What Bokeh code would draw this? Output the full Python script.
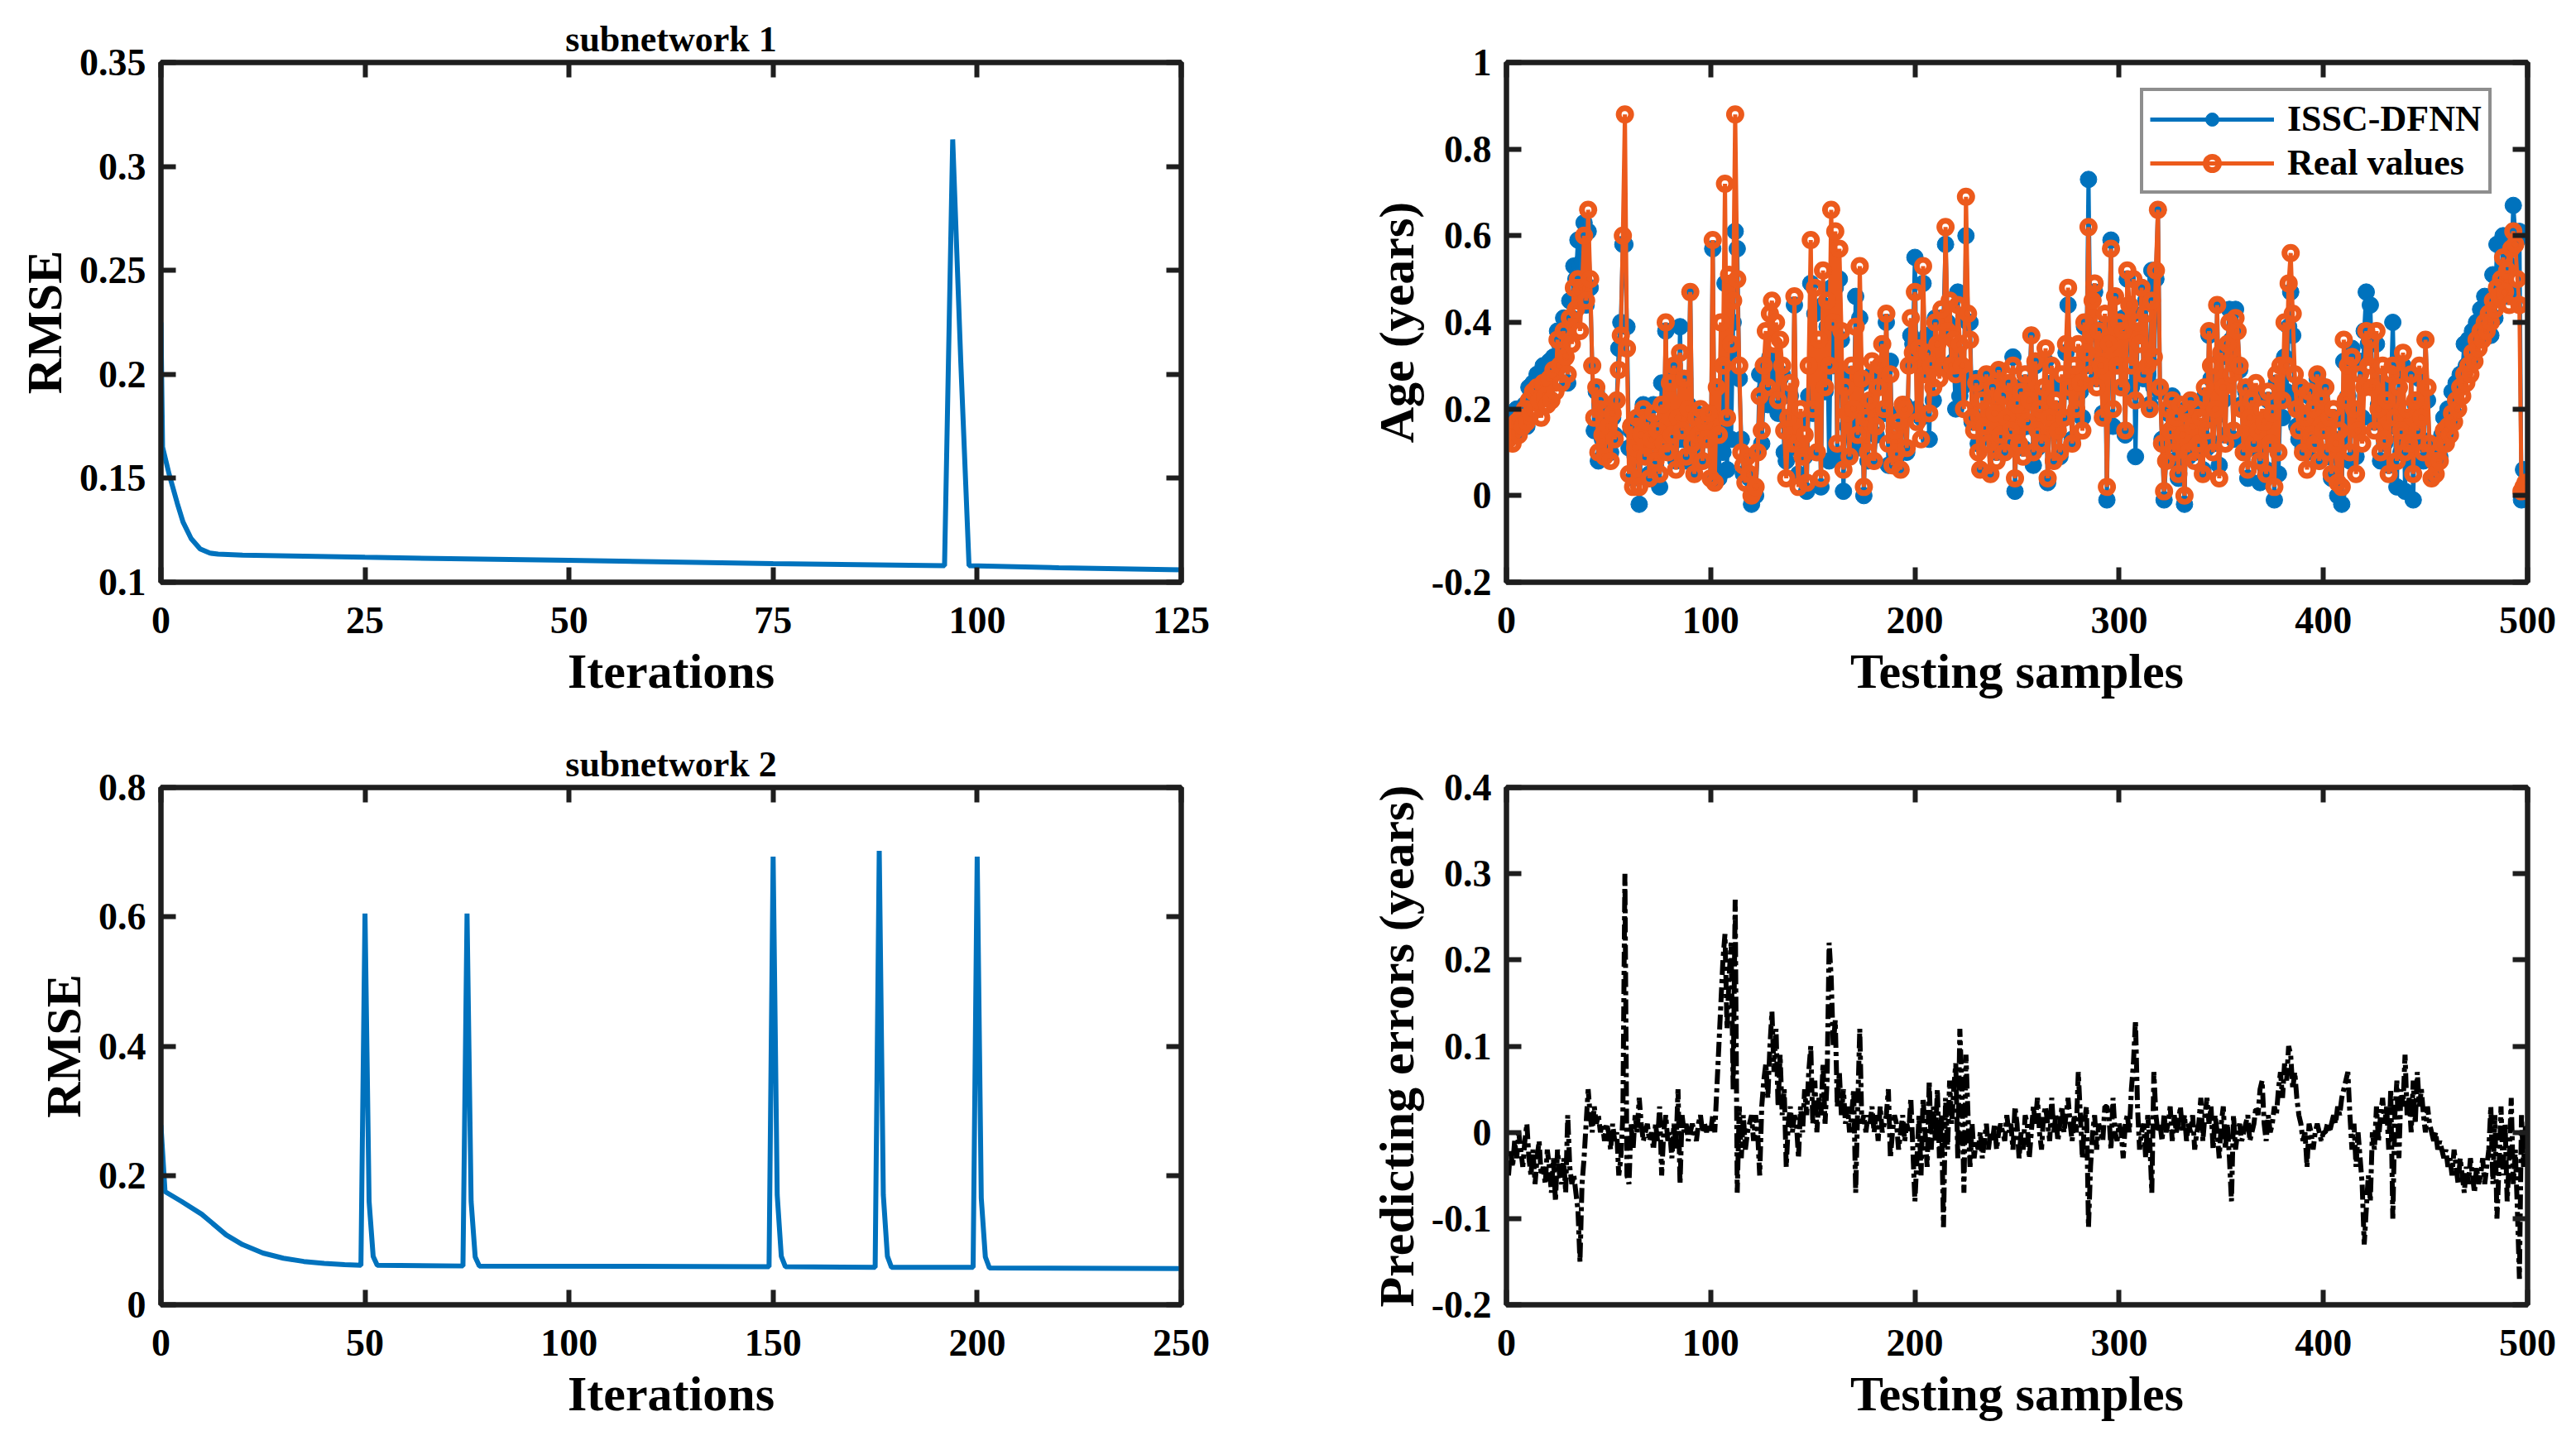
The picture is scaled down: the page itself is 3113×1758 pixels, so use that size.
from bokeh.plotting import figure
from bokeh.layouts import column, row
from bokeh.models import Range1d, FixedTicker, LinearAxis, Legend, LegendItem
from bokeh.embed import file_html
from bokeh.resources import INLINE

FONT = "Liberation Serif"
BLUE = "#0072BD"
ORANGE = "#EC5A1C"
AXC = "#1e1e1e"

# ---------------- data ----------------
iter1 = [0, 0.2, 1, 2, 2.7, 3.7, 4.8, 6, 7, 10, 25, 50, 75, 96, 97, 98, 99, 110, 125]
rmse1 = [0.225, 0.165, 0.152, 0.138, 0.129, 0.121, 0.116, 0.1140, 0.1135, 0.113, 0.112,
         0.1105, 0.109, 0.108, 0.313, 0.205, 0.108, 0.107, 0.106]

iter2 = [0, 1, 5, 10, 13, 16, 20, 25, 30, 35, 40, 45, 49, 50, 51, 52, 53,
         74, 75, 76, 77, 78, 149, 150, 151, 152, 153, 175, 176, 177, 178, 179,
         199, 200, 201, 202, 203, 250]
rmse2 = [0.278, 0.175, 0.160, 0.140, 0.124, 0.108, 0.093, 0.080, 0.072, 0.067, 0.064, 0.062, 0.061,
         0.605, 0.160, 0.075, 0.061,
         0.060, 0.605, 0.160, 0.074, 0.060, 0.059, 0.693, 0.170, 0.075, 0.059,
         0.058, 0.702, 0.170, 0.075, 0.058,
         0.058, 0.693, 0.165, 0.074, 0.057, 0.056]

real_values = [
    0.13, 0.14, 0.12, 0.15, 0.17, 0.14, 0.18, 0.16, 0.20, 0.17,
    0.22, 0.19, 0.24, 0.20, 0.25, 0.22, 0.18, 0.26, 0.23, 0.21,
    0.27, 0.22, 0.29, 0.24, 0.36, 0.30, 0.26, 0.38, 0.32, 0.28,
    0.41, 0.35, 0.48, 0.43, 0.50, 0.38, 0.48, 0.60, 0.45, 0.66,
    0.50, 0.30, 0.18, 0.25, 0.10, 0.22, 0.14, 0.09, 0.20, 0.16,
    0.08, 0.19, 0.13, 0.22, 0.29, 0.37, 0.60, 0.88, 0.34, 0.05,
    0.16, 0.02, 0.11, 0.18, 0.02, 0.14, 0.20, 0.09, 0.17, 0.04,
    0.13, 0.19, 0.08, 0.15, 0.05, 0.21, 0.12, 0.40, 0.10, 0.26,
    0.14, 0.30, 0.06, 0.18, 0.33, 0.15, 0.27, 0.09, 0.20, 0.47,
    0.12, 0.05, 0.18, 0.14, 0.20, 0.08, 0.17, 0.13, 0.19, 0.04,
    0.59, 0.03, 0.25, 0.14, 0.40, 0.30, 0.72, 0.18, 0.51, 0.35,
    0.45, 0.88, 0.50, 0.30, 0.10, 0.07, 0.03, 0.09, 0.05, 0.00,
    0.01, 0.02, 0.10, 0.23, 0.15, 0.30, 0.38, 0.25, 0.42, 0.45,
    0.35, 0.40, 0.22, 0.36, 0.30, 0.15, 0.04, 0.18, 0.26, 0.12,
    0.46, 0.12, 0.02, 0.20, 0.09, 0.14, 0.03, 0.30, 0.59, 0.20,
    0.48, 0.10, 0.36, 0.04, 0.52, 0.25, 0.45, 0.30, 0.66, 0.40,
    0.61, 0.12, 0.57, 0.38, 0.06, 0.25, 0.19, 0.09, 0.30, 0.20,
    0.39, 0.14, 0.53, 0.27, 0.02, 0.18, 0.10, 0.22, 0.31, 0.08,
    0.16, 0.25, 0.30, 0.35, 0.20, 0.42, 0.12, 0.28, 0.07, 0.15,
    0.10, 0.17, 0.06, 0.21, 0.20, 0.11, 0.30, 0.41, 0.33, 0.47,
    0.17, 0.34, 0.13, 0.53, 0.28, 0.33, 0.19, 0.30, 0.25, 0.40,
    0.35, 0.27, 0.43, 0.30, 0.62, 0.38, 0.45, 0.30, 0.36, 0.28,
    0.44, 0.35, 0.30, 0.20, 0.69, 0.42, 0.36, 0.18, 0.15, 0.26,
    0.10, 0.06, 0.22, 0.16, 0.28, 0.12, 0.05, 0.25, 0.19, 0.08,
    0.29, 0.14, 0.23, 0.10, 0.18, 0.26, 0.15, 0.30, 0.04, 0.21,
    0.12, 0.24, 0.09, 0.28, 0.17, 0.22, 0.37, 0.10, 0.31, 0.15,
    0.20, 0.12, 0.25, 0.34, 0.04, 0.18, 0.30, 0.08, 0.22, 0.15,
    0.10, 0.28, 0.18, 0.35, 0.48, 0.25, 0.12, 0.30, 0.20, 0.35,
    0.26, 0.15, 0.40, 0.33, 0.62, 0.28, 0.45, 0.49, 0.25, 0.38,
    0.30, 0.18, 0.42, 0.02, 0.35, 0.57, 0.20, 0.46, 0.30, 0.40,
    0.25, 0.38, 0.15, 0.52, 0.44, 0.30, 0.50, 0.22, 0.40, 0.35,
    0.48, 0.28, 0.42, 0.30, 0.20, 0.45, 0.32, 0.52, 0.66, 0.25,
    0.12, 0.01, 0.08, 0.20, 0.15, 0.22, 0.10, 0.18, 0.05, 0.21,
    0.14, 0.00, 0.19, 0.10, 0.22, 0.16, 0.08, 0.20, 0.12, 0.18,
    0.05, 0.25, 0.15, 0.38, 0.30, 0.10, 0.20, 0.44, 0.04, 0.33,
    0.25, 0.12, 0.35, 0.40, 0.28, 0.15, 0.41, 0.38, 0.30, 0.20,
    0.10, 0.25, 0.06, 0.18, 0.22, 0.12, 0.26, 0.15, 0.08, 0.20,
    0.17, 0.05, 0.24, 0.12, 0.19, 0.02, 0.28, 0.10, 0.30, 0.22,
    0.40, 0.30, 0.49, 0.56, 0.42, 0.28, 0.20, 0.15, 0.25, 0.10,
    0.18, 0.06, 0.24, 0.14, 0.20, 0.12, 0.28, 0.08, 0.22, 0.15,
    0.25, 0.10, 0.18, 0.05, 0.20, 0.12, 0.03, 0.15, 0.02, 0.36,
    0.22, 0.30, 0.10, 0.32, 0.20, 0.05, 0.15, 0.28, 0.12, 0.25,
    0.38, 0.30, 0.36, 0.25, 0.15, 0.38, 0.20, 0.10, 0.30, 0.13,
    0.22, 0.05, 0.28, 0.30, 0.18, 0.08, 0.25, 0.15, 0.33, 0.10,
    0.20, 0.12, 0.28, 0.05, 0.22, 0.15, 0.30, 0.18, 0.10, 0.36,
    0.25, 0.12, 0.04, 0.08, 0.05, 0.10, 0.08, 0.12, 0.15, 0.12,
    0.16, 0.14, 0.19, 0.17, 0.22, 0.20, 0.25, 0.23, 0.28, 0.26,
    0.30, 0.28, 0.33, 0.31, 0.36, 0.34, 0.38, 0.36, 0.40, 0.38,
    0.42, 0.40, 0.45, 0.43, 0.48, 0.46, 0.50, 0.55, 0.47, 0.52,
    0.44, 0.57, 0.61, 0.58, 0.50, 0.44, 0.01, 0.02, 0.03, 0.03,
]

# predicting errors = real value - ISSC-DFNN output
pred_errors = [
    -0.05, -0.02, -0.04, -0.01, -0.03, 0.00, -0.02, -0.04, -0.01, 0.01,
    -0.03, -0.05, -0.02, -0.06, -0.03, -0.01, -0.05, -0.04, -0.06, -0.02,
    -0.04, -0.07, -0.03, -0.08, -0.02, -0.05, -0.06, -0.03, -0.07, 0.02,
    -0.04, -0.06, -0.05, -0.07, -0.09, -0.15, -0.06, -0.03, 0.01, 0.05,
    0.02, 0.00, 0.03, 0.01, 0.02, 0.00, 0.01, -0.01, 0.01, 0.00,
    -0.02, 0.01, -0.01, 0.00, -0.05, -0.03, 0.02, 0.30, -0.05, -0.06,
    0.01, -0.02, 0.02, 0.00, 0.04, 0.01, -0.01, 0.00, 0.01, -0.01,
    0.00, -0.02, 0.01, -0.01, 0.03, -0.05, 0.00, 0.02, -0.01, 0.00,
    -0.03, 0.01, -0.02, 0.05, -0.06, 0.02, 0.00, 0.01, -0.01, 0.00,
    0.01, 0.00, -0.01, 0.01, 0.02, 0.00, 0.01, 0.00, 0.01, 0.00,
    0.02, 0.00, 0.05, 0.10, 0.15, 0.20, 0.23, 0.12, 0.18, 0.22,
    0.05, 0.27, -0.07, 0.03, -0.03, 0.02, -0.02, 0.00, 0.01, 0.02,
    -0.01, 0.02, 0.00, -0.05, 0.03, 0.06, 0.08, 0.04, 0.10, 0.14,
    0.07, 0.12, 0.03, 0.09, 0.02, 0.05, -0.04, 0.01, 0.03, 0.00,
    0.02, 0.01, -0.03, 0.03, 0.00, 0.05, 0.02, 0.07, 0.10, 0.01,
    0.06, 0.00, 0.04, 0.02, 0.08, 0.01, 0.06, 0.22, 0.18, 0.10,
    0.13, 0.03, 0.07, 0.02, 0.05, 0.01, 0.03, 0.00, 0.02, 0.05,
    -0.07, 0.03, 0.12, 0.01, 0.02, 0.00, 0.02, 0.01, 0.03, 0.00,
    0.02, -0.01, 0.03, 0.00, 0.01, 0.02, 0.05, -0.03, 0.00, 0.02,
    0.01, -0.02, 0.00, 0.02, -0.01, 0.01, 0.00, 0.04, -0.02, -0.08,
    -0.03, 0.02, -0.05, 0.04, 0.00, -0.04, 0.06, -0.02, 0.03, -0.01,
    0.05, -0.03, 0.02, -0.11, 0.04, -0.02, 0.06, 0.01, 0.05, 0.08,
    -0.03, 0.12, 0.05, -0.07, 0.09, 0.02, -0.04, 0.01, -0.03, -0.01,
    -0.02, 0.00, -0.03, -0.01, 0.01, -0.02, 0.00, -0.01, 0.01, -0.02,
    0.00, 0.01, 0.00, -0.01, 0.02, 0.00, 0.01, -0.02, 0.03, 0.01,
    -0.03, 0.00, -0.02, 0.02, 0.01, -0.03, 0.00, 0.03, 0.01, 0.04,
    0.00, -0.02, 0.02, 0.03, 0.01, -0.01, 0.04, 0.00, 0.02, -0.01,
    0.01, 0.03, 0.00, 0.02, 0.04, 0.01, -0.01, 0.02, 0.00, 0.07,
    0.02, -0.03, 0.01, 0.03, -0.11, -0.04, 0.00, 0.02, -0.02, 0.01,
    0.00, -0.01, 0.03, 0.03, 0.02, -0.02, 0.04, 0.00, -0.01, 0.01,
    0.00, -0.03, 0.01, 0.02, 0.00, 0.05, 0.08, 0.13, 0.03, -0.02,
    0.00, 0.01, -0.03, 0.02, -0.01, -0.07, 0.07, 0.02, 0.00, 0.01,
    -0.01, 0.02, 0.00, 0.01, 0.03, -0.01, 0.02, 0.00, 0.01, 0.03,
    0.00, 0.02, -0.01, 0.01, 0.00, 0.02, -0.02, 0.00, 0.01, 0.04,
    -0.01, 0.02, 0.04, 0.01, 0.03, -0.02, 0.02, 0.00, -0.03, 0.01,
    0.03, -0.02, 0.01, -0.03, -0.08, 0.02, -0.02, 0.00, 0.01, -0.01,
    0.00, 0.01, 0.02, -0.01, 0.00, 0.01, 0.03, 0.02, 0.05, 0.06,
    0.01, -0.01, 0.02, 0.00, 0.01, 0.03, 0.02, 0.05, 0.07, 0.04,
    0.08, 0.06, 0.10, 0.09, 0.05, 0.07, 0.04, 0.02, 0.01, -0.01,
    0.00, -0.04, 0.01, 0.00, -0.02, 0.00, 0.01, 0.00, -0.01, 0.00,
    0.00, 0.01, 0.00, 0.01, 0.02, 0.01, 0.03, 0.02, 0.04, 0.05,
    0.06, 0.07, 0.02, -0.02, 0.01, -0.04, 0.00, -0.03, -0.06, -0.13,
    -0.09, -0.05, -0.08, 0.00, -0.02, 0.03, -0.01, 0.02, 0.04, 0.01,
    0.03, -0.02, 0.05, -0.10, 0.02, 0.06, -0.03, 0.05, 0.03, 0.09,
    0.02, 0.04, 0.00, 0.06, 0.01, 0.07, 0.03, 0.05, 0.02, 0.00,
    0.03, 0.01, 0.00, -0.01, 0.00, -0.02, -0.01, -0.02, -0.03, -0.02,
    -0.04, -0.03, -0.05, -0.02, -0.04, -0.06, -0.03, -0.05, -0.07, -0.04,
    -0.06, -0.03, -0.05, -0.07, -0.04, -0.06, -0.05, -0.03, -0.06, -0.04,
    -0.02, 0.03, -0.06, 0.02, -0.10, -0.04, 0.03, -0.05, 0.01, -0.08,
    -0.03, 0.04, -0.06, -0.02, -0.09, -0.17, 0.02, -0.04, 0.01, 0.00,
]

samples = list(range(1, len(real_values) + 1))
issc_dfnn = [round(r - e, 3) for r, e in zip(real_values, pred_errors)]

x1_ticks = [0, 25, 50, 75, 100, 125]
x1_labels = ["0", "25", "50", "75", "100", "125"]
y1_ticks = [0.1, 0.15, 0.2, 0.25, 0.3, 0.35]
y1_labels = ["0.1", "0.15", "0.2", "0.25", "0.3", "0.35"]

x2_ticks = [0, 50, 100, 150, 200, 250]
x2_labels = ["0", "50", "100", "150", "200", "250"]
y2_ticks = [0, 0.2, 0.4, 0.6, 0.8]
y2_labels = ["0", "0.2", "0.4", "0.6", "0.8"]

xs_ticks = [0, 100, 200, 300, 400, 500]
xs_labels = ["0", "100", "200", "300", "400", "500"]
ya_ticks = [-0.2, 0, 0.2, 0.4, 0.6, 0.8, 1]
ya_labels = ["-0.2", "0", "0.2", "0.4", "0.6", "0.8", "1"]
ye_ticks = [-0.2, -0.1, 0, 0.1, 0.2, 0.3, 0.4]
ye_labels = ["-0.2", "-0.1", "0", "0.1", "0.2", "0.3", "0.4"]


def style_axis(ax, ticks, labels, show, standoff=0):
    ax.ticker = FixedTicker(ticks=ticks)
    ax.axis_line_color = AXC
    ax.axis_line_width = 6
    ax.major_tick_line_color = AXC
    ax.major_tick_line_width = 6
    ax.major_tick_in = 18
    ax.major_tick_out = 0
    ax.minor_tick_line_color = None
    ax.major_label_text_font = FONT
    ax.major_label_text_font_style = "bold"
    if show:
        ax.major_label_overrides = {t: l for t, l in zip(ticks, labels)}
        ax.major_label_text_color = "black"
        ax.major_label_text_font_size = "46px"
        ax.major_label_standoff = standoff
    else:
        # tick marks only: labels are not drawn at all
        ax.major_label_text_color = None
        ax.major_label_text_font_size = "1px"
        ax.major_label_standoff = 0
    ax.axis_label_text_font = FONT
    ax.axis_label_text_font_style = "bold"
    ax.axis_label_text_font_size = "60px"
    ax.axis_label_text_color = "black"


def make_fig(w, h, bl, br, bt, bb, xr, yr, xt, xl, yt, yl, xlab, ylab, title=None):
    p = figure(width=w, height=h, x_range=Range1d(*xr), y_range=Range1d(*yr),
               output_backend="svg", toolbar_location=None,
               min_border_left=bl, min_border_right=br,
               min_border_top=bt, min_border_bottom=bb)
    if title is not None:
        p.title.text = title
        p.title.align = "center"
        p.title.text_font = FONT
        p.title.text_font_style = "bold"
        p.title.text_font_size = "44px"
        p.title.text_color = "black"
        p.title.standoff = 8
    p.grid.visible = False
    p.outline_line_color = AXC
    p.outline_line_width = 6
    p.background_fill_color = "white"
    p.border_fill_color = "white"
    p.add_layout(LinearAxis(), "right")
    p.add_layout(LinearAxis(), "above")
    style_axis(p.below[0], xt, xl, True, standoff=30)
    style_axis(p.above[0], xt, xl, False)
    style_axis(p.left[0], yt, yl, True, standoff=18)
    style_axis(p.right[0], yt, yl, False)
    p.below[0].axis_label = xlab
    p.left[0].axis_label = ylab
    p.below[0].axis_label_standoff = 10
    p.left[0].axis_label_standoff = 6
    return p


# top-left: subnetwork 1
p1 = make_fig(1552, 872, 194, 125, 75, 169, (0, 125), (0.1, 0.35),
              x1_ticks, x1_labels, y1_ticks, y1_labels, "Iterations", "RMSE", "subnetwork 1")
p1.line(iter1, rmse1, line_color=BLUE, line_width=6)

# bottom-left: subnetwork 2
p3 = make_fig(1552, 870, 194, 125, 79, 166, (0, 250), (0, 0.8),
              x2_ticks, x2_labels, y2_ticks, y2_labels, "Iterations", "RMSE", "subnetwork 2")
p3.line(iter2, rmse2, line_color=BLUE, line_width=6)

# top-right: predictions vs real values
p2 = make_fig(1545, 872, 268, 43, 75, 169, (0, 500), (-0.2, 1),
              xs_ticks, xs_labels, ya_ticks, ya_labels, "Testing samples", "Age (years)")
rb_line = p2.line(samples, issc_dfnn, line_color=BLUE, line_width=5)
rb_pts = p2.scatter(samples, issc_dfnn, size=20, fill_color=BLUE, line_color=BLUE)
ro_line = p2.line(samples, real_values, line_color=ORANGE, line_width=5)
ro_pts = p2.scatter(samples, real_values, size=15, fill_color=None,
                    line_color=ORANGE, line_width=7)
legend = Legend(items=[LegendItem(label="ISSC-DFNN", renderers=[rb_line, rb_pts]),
                       LegendItem(label="Real values", renderers=[ro_line, ro_pts])],
                location=(766, 469))
legend.border_line_color = AXC
legend.border_line_width = 4
legend.background_fill_color = "white"
legend.background_fill_alpha = 1
legend.label_text_font = FONT
legend.label_text_font_style = "bold"
legend.label_text_font_size = "44px"
legend.label_text_color = "black"
legend.glyph_width = 150
legend.glyph_height = 40
legend.label_standoff = 16
legend.padding = 8
legend.spacing = 2
legend.margin = 0
p2.add_layout(legend)

# bottom-right: predicting errors
p4 = make_fig(1545, 870, 268, 43, 79, 166, (0, 500), (-0.2, 0.4),
              xs_ticks, xs_labels, ye_ticks, ye_labels, "Testing samples",
              "Predicting errors (years)")
p4.line(samples, pred_errors, line_color="black", line_width=6, line_dash="18 5 5 5")

layout = column(row(p1, p2), row(p3, p4))
open("out.html", "w").write(file_html(layout, INLINE))
